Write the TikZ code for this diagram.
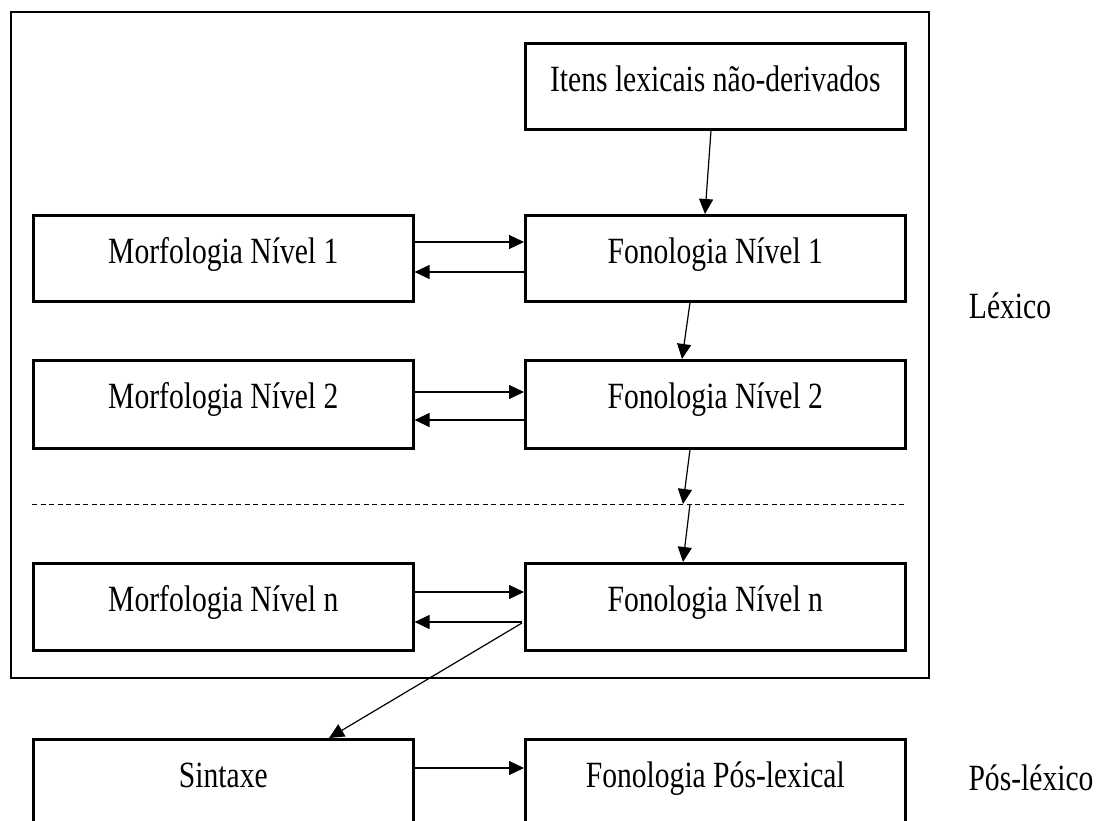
\documentclass[tikz,border=0pt]{standalone}
\usepackage{fontspec}
\setmainfont[FakeStretch=0.8]{Liberation Serif}
\usetikzlibrary{arrows.meta,calc}
\begin{document}
\begin{tikzpicture}[x=1pt,y=-1pt,
  box/.style={draw,line width=2.6pt,inner sep=0pt,anchor=north west,minimum width=380pt,
    text height=48pt,text depth=38pt,font=\fontsize{37}{42}\selectfont},
  arr/.style={line width=1.2pt,-{Triangle[length=15pt,width=14pt]}},
  lbl/.style={font=\fontsize{37}{42}\selectfont,inner sep=0pt,anchor=base}]
\useasboundingbox (0,0) rectangle (1098,821);
\clip (0,0) rectangle (1098,821);
\node[draw,line width=2.2pt,minimum width=918pt,minimum height=666pt,anchor=north west,inner sep=0pt] (outer) at (10,11) {};
\node[box] (it) at (524,42) {Itens lexicais não-derivados};
\node[box] (m1) at (32,214) {Morfologia Nível 1};
\node[box] (f1) at (524,214) {Fonologia Nível 1};
\node[box,text depth=40pt] (m2) at (32,359) {Morfologia Nível 2};
\node[box,text depth=40pt] (f2) at (524,359) {Fonologia Nível 2};
\node[box,text depth=39pt] (mn) at (32,562) {Morfologia Nível n};
\node[box,text depth=39pt] (fn) at (524,562) {Fonologia Nível n};
\node[box,text depth=60pt] (sx) at (32,738) {Sintaxe};
\node[box,text depth=60pt] (fp) at (524,738) {Fonologia Pós-lexical};
\node[lbl] (lex) at (1010,318) {Léxico};
\node[lbl] (pos) at (1031,790) {Pós-léxico};
\coordinate (dl) at (32,504);
\coordinate (dr) at (904,504);
\draw[line width=0.9pt,dash pattern=on 5pt off 3.5pt] (dl) -- (dr);
\coordinate (dm) at (683,504);
% vertical arrows
\draw[arr] ($(it.south west)+(187,0)$) -- ($(f1.north west)+(181,0)$);
\draw[arr] ($(f1.south west)+(166,0)$) -- ($(f2.north west)+(158,0)$);
\draw[arr] ($(f2.south west)+(166,0)$) -- (dm);
\draw[arr] ($(dm)+(7,0)$) -- ($(fn.north west)+(159,0)$);
% horizontal arrows
\draw[arr] ($(m1.north east)+(0,28)$) -- ($(f1.north west)+(0,28)$);
\draw[arr] ($(f1.north west)+(0,58)$) -- ($(m1.north east)+(0,58)$);
\draw[arr] ($(m2.north east)+(0,33)$) -- ($(f2.north west)+(0,33)$);
\draw[arr] ($(f2.north west)+(0,61)$) -- ($(m2.north east)+(0,61)$);
\draw[arr] ($(mn.north east)+(0,30)$) -- ($(fn.north west)+(0,30)$);
\draw[arr] ($(fn.north west)+(-2,60)$) -- ($(mn.north east)+(0,60)$);
\draw[arr] ($(fn.north west)+(-2,61)$) -- ($(sx.north west)+(297,0)$);
\draw[arr] ($(sx.north east)+(0,30)$) -- ($(fp.north west)+(0,30)$);
\end{tikzpicture}
\end{document}
